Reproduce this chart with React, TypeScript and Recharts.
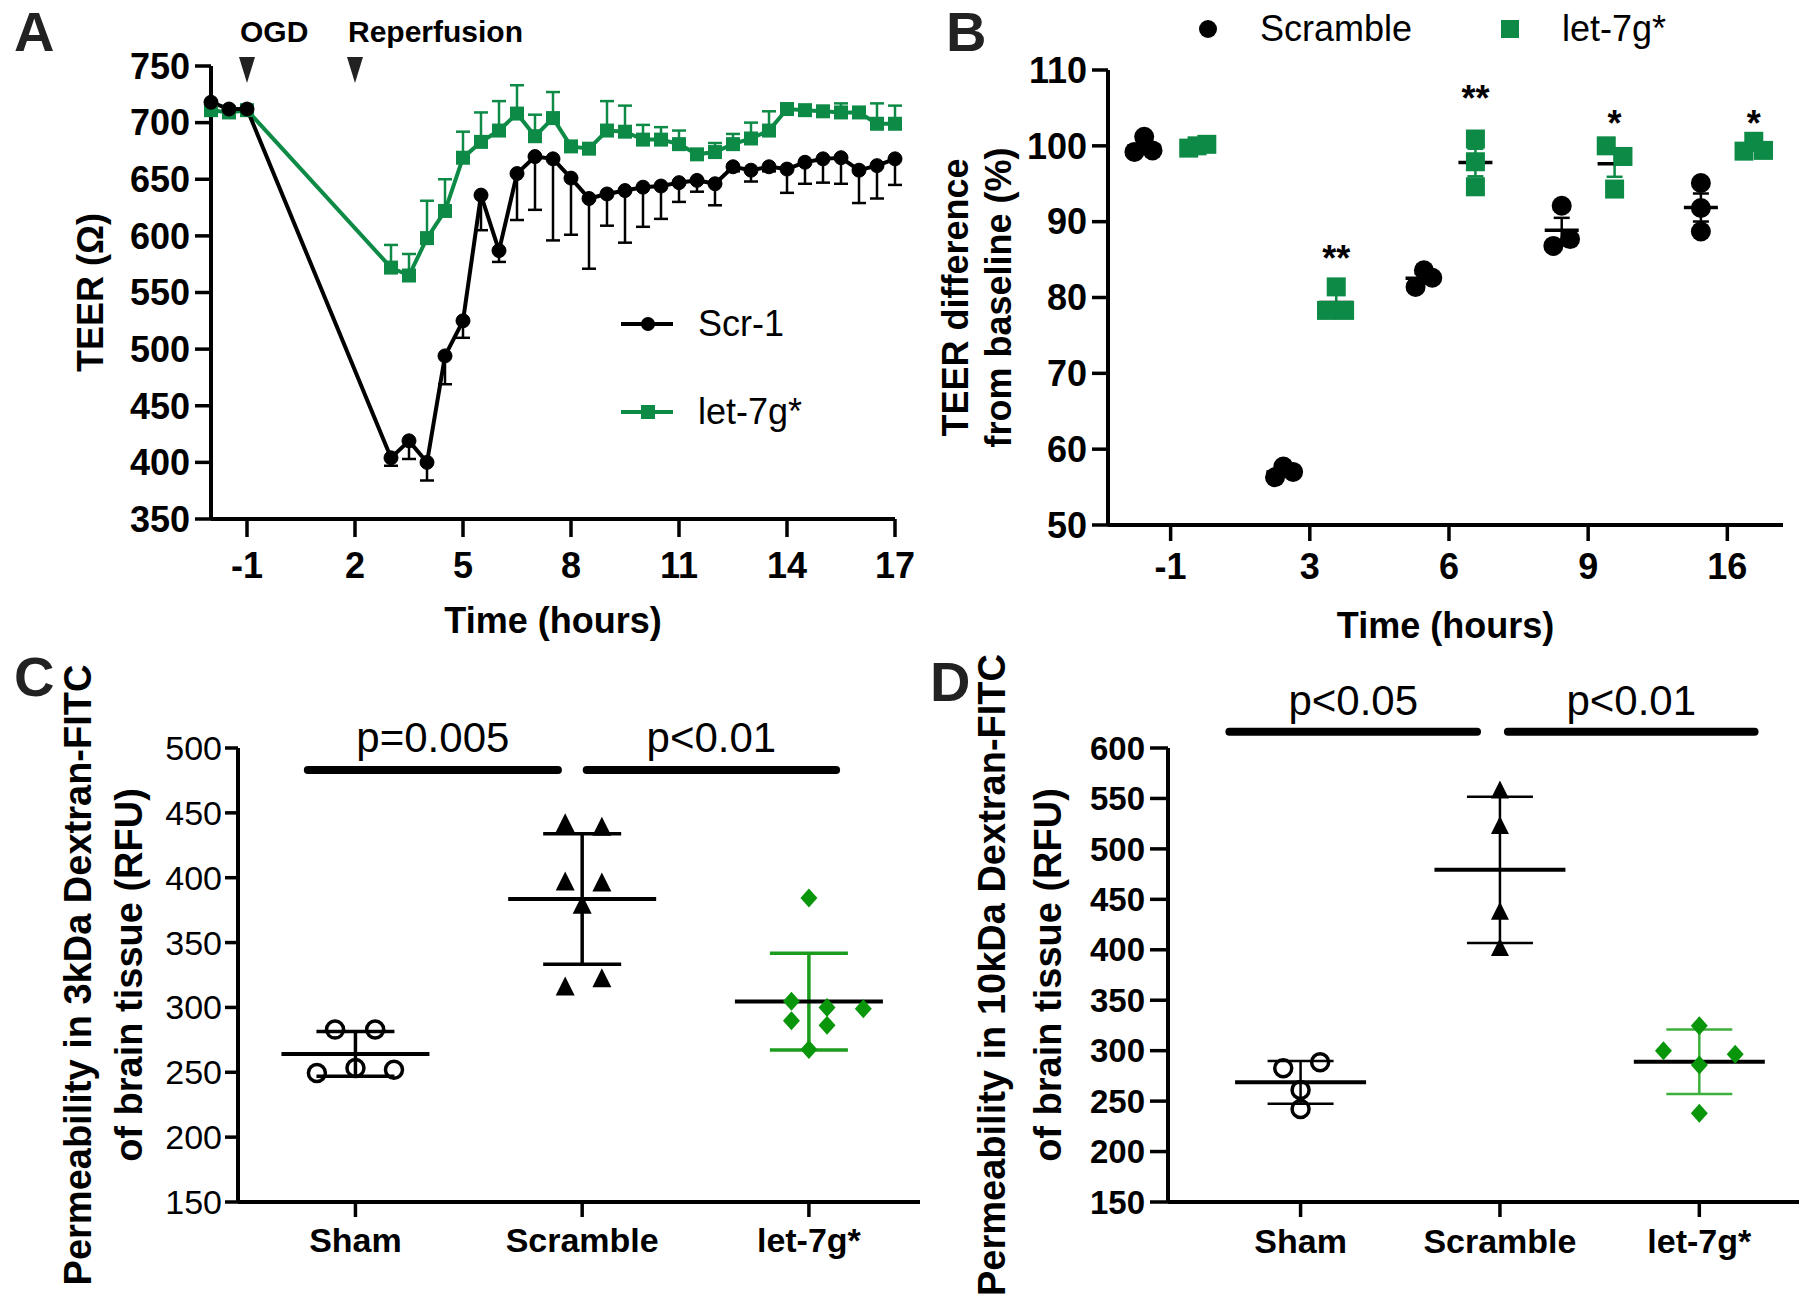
import React from 'react';
import {
  ComposedChart,
  ScatterChart,
  Line,
  Scatter,
  XAxis,
  YAxis,
  ErrorBar,
  ReferenceLine,
  ReferenceDot,
  Legend,
} from 'recharts';

const FONT = "'Liberation Sans', Arial, Helvetica, sans-serif";
const GREEN_A = '#0d8b46';
const GREEN_C = '#0a960a';
const GREEN_C_ERR = '#1c9c1c';
const GREEN_D_ERR = '#3cb03c';

// ---------- Panel A: TEER time course ----------
const timeA = [-2, -1.5, -1, 3, 3.5, 4, 4.5, 5, 5.5, 6, 6.5, 7, 7.5, 8, 8.5, 9, 9.5, 10, 10.5, 11, 11.5, 12, 12.5, 13, 13.5, 14, 14.5, 15, 15.5, 16, 16.5, 17];
const scrA = [718, 712, 712, 404, 419, 400, 494, 525, 636, 587, 655, 670, 668, 651, 633, 637, 640, 643, 644, 647, 649, 646, 661, 658, 661, 659, 665, 668, 669, 658, 662, 668];
const scrErrA = [4, 0, 0, 7, 16, 16, 25, 15, 31, 10, 41, 47, 72, 50, 62, 28, 46, 35, 29, 17, 10, 19, 4, 10, 4, 21, 19, 21, 23, 29, 29, 23];
const letA = [711, 709, 711, 572, 565, 598, 622, 669, 683, 693, 708, 688, 704, 679, 677, 693, 692, 685, 685, 681, 672, 674, 681, 686, 693, 712, 711, 710, 709, 709, 699, 699];
const letErrA = [0, 0, 0, 20, 19, 33, 28, 23, 26, 26, 25, 19, 23, 4, 4, 26, 23, 13, 11, 12, 4, 8, 9, 14, 17, 3, 3, 4, 8, 4, 18, 16];
const ticksAX = [-1, 2, 5, 8, 11, 14, 17];
const ticksAY = [350, 400, 450, 500, 550, 600, 650, 700, 750];
const eventsA = [
  { t: -1, label: 'OGD' },
  { t: 2, label: 'Reperfusion' },
];

// ---------- Panel B: TEER difference from baseline ----------
const groupsB = ['-1', '3', '6', '9', '16'];
const scrambleB = [
  [101.2, 99.2, 99.4],
  [56.3, 57.0, 57.7],
  [81.4, 82.6, 83.6],
  [92.1, 86.8, 87.7],
  [95.1, 91.8, 88.7],
];
const let7gB = [
  [99.7, 100.2, 100.0],
  [81.4, 78.3, 78.3],
  [100.9, 97.9, 94.6],
  [100.0, 98.6, 94.3],
  [100.6, 99.3, 99.4],
];
const sigB = ['', '**', '**', '*', '*'];
const sigYB = [0, 85.1, 106.2, 102.9, 102.9];
const ticksBY = [50, 60, 70, 80, 90, 100, 110];

// ---------- Panel C: 3kDa dextran ----------
const groupsCD = ['Sham', 'Scramble', 'let-7g*'];
const sham3k = [282.9, 283.0, 249.5, 253.3, 252.0];
const scr3k = [440.9, 438.3, 396.0, 395.2, 378.0, 315.0, 321.4];
const let3k = [384.4, 304.7, 300.0, 299.0, 289.8, 286.2, 267.5];
const ticksCY = [150, 200, 250, 300, 350, 400, 450, 500];

// ---------- Panel D: 10kDa dextran ----------
const sham10k = [282.5, 288.5, 261.0, 242.3];
const scr10k = [557.0, 522.0, 437.0, 401.0];
const let10k = [324.8, 300.0, 296.4, 285.8, 238.0];
const ticksDY = [150, 200, 250, 300, 350, 400, 450, 500, 550, 600];

// horizontal scatter offsets (layout only)
const jitScrB = [[-0.19, -0.26, -0.13], [-0.25, -0.12, -0.19], [-0.24, -0.12, -0.18], [-0.19, -0.25, -0.13], [-0.19, -0.19, -0.19]];
const jitLetB = [[0.13, 0.26, 0.19], [0.19, 0.12, 0.25], [0.19, 0.19, 0.19], [0.13, 0.25, 0.19], [0.19, 0.12, 0.26]];
const jitSham3k = [-0.09, 0.087, -0.17, 0, 0.17];
const jitScr3k = [-0.075, 0.087, -0.075, 0.087, 0, -0.075, 0.087];
const jitLet3k = [0, -0.077, 0.08, 0.24, -0.077, 0.08, 0];
const jitSham10k = [-0.087, 0.098, 0, 0];
const jitScr10k = [0, 0, 0, 0];
const jitLet10k = [0, -0.18, 0.18, 0, 0];

const mean = (a: number[]) => a.reduce((s, v) => s + v, 0) / a.length;
const sd = (a: number[]) => {
  const m = mean(a);
  return Math.sqrt(a.reduce((s, v) => s + (v - m) * (v - m), 0) / (a.length - 1));
};
const sem = (a: number[]) => sd(a) / Math.sqrt(a.length);

const rowsA = timeA.map((t, i) => ({
  t,
  scr: scrA[i],
  scrErr: [scrErrA[i], 0],
  let: letA[i],
  letErr: [0, letErrA[i]],
}));

const pointsB = (vals: number[][], jit: number[][]) =>
  vals.flatMap((g, i) => g.map((v, j) => ({ x: i + jit[i][j], y: v })));
const statsB = (vals: number[][], side: number) =>
  vals.map((g, i) => ({ x: i + side, y: mean(g), err: sem(g) }));
const pointsGroup = (vals: number[], jit: number[], i: number) =>
  vals.map((v, j) => ({ x: i + jit[j], y: v }));
const statGroup = (vals: number[], i: number) => [{ x: i, y: mean(vals), err: sd(vals) }];

const tickFont = (size: number, weight: number) => ({
  fill: '#000',
  fontSize: size,
  fontWeight: weight,
  fontFamily: FONT,
});
const axisStroke = { stroke: '#000', strokeWidth: 4 };

// rotated multi-line y-axis title
const yTitle = (lines: string[], xs: number[], size: number) => (props: any) => {
  const vb = props.viewBox || { x: 0, y: 0, width: 0, height: 0 };
  const cy = vb.y + vb.height / 2;
  return (
    <g>
      {lines.map((l, i) => (
        <text
          key={l}
          x={vb.x + xs[i]}
          y={cy}
          transform={`rotate(-90 ${vb.x + xs[i]} ${cy})`}
          textAnchor="middle"
          dominantBaseline="central"
          fontSize={size}
          fontWeight={700}
          fontFamily={FONT}
          fill="#000"
        >
          {l}
        </text>
      ))}
    </g>
  );
};

// marker shapes
const squareDot = (size: number, color: string) => (p: any) => (
  <rect key={`sq-${p.index}`} x={p.cx - size / 2} y={p.cy - size / 2} width={size} height={size} fill={color} />
);
const circleShape = (r: number, color: string) => (p: any) => <circle cx={p.cx} cy={p.cy} r={r} fill={color} />;
const squareShape = (size: number, color: string) => (p: any) => (
  <rect x={p.cx - size / 2} y={p.cy - size / 2} width={size} height={size} fill={color} />
);
const openCircle = (r: number) => (p: any) => (
  <circle cx={p.cx} cy={p.cy} r={r} fill="none" stroke="#000" strokeWidth={3.5} />
);
const triangle = (s: number) => (p: any) => (
  <polygon points={`${p.cx},${p.cy - s * 0.6} ${p.cx + s / 2},${p.cy + s * 0.4} ${p.cx - s / 2},${p.cy + s * 0.4}`} fill="#000" />
);
const diamond = (w: number, h: number, color: string) => (p: any) => (
  <polygon points={`${p.cx},${p.cy - h / 2} ${p.cx + w / 2},${p.cy} ${p.cx},${p.cy + h / 2} ${p.cx - w / 2},${p.cy}`} fill={color} />
);
const meanBar = (w: number, sw: number) => (p: any) => (
  <line x1={p.cx - w / 2} x2={p.cx + w / 2} y1={p.cy} y2={p.cy} stroke="#000" strokeWidth={sw} />
);
const eventMark = (label: string) => (p: any) => (
  <g>
    <polygon points={`${p.cx - 8},${p.cy - 9} ${p.cx + 8},${p.cy - 9} ${p.cx},${p.cy + 17}`} fill="#222" />
    <text x={p.cx - 7} y={p.cy - 24} fontSize={30} fontWeight={700} fontFamily={FONT} fill="#000">
      {label}
    </text>
  </g>
);
const starMark = (text: string) => (p: any) => (
  <text x={p.cx} y={p.cy} textAnchor="middle" dominantBaseline="central" fontSize={36} fontWeight={700} fontFamily={FONT} fill="#000">
    {text}
  </text>
);

// legends
const orderA = ['Scr-1', 'let-7g*'];
function LegendA({ payload }: any) {
  const items = [...(payload || [])]
    .filter((it: any) => orderA.includes(it.value))
    .sort((a: any, b: any) => orderA.indexOf(a.value) - orderA.indexOf(b.value));
  return (
    <div style={{ fontFamily: FONT }}>
      {items.map((it: any) => (
        <div key={it.value} style={{ display: 'flex', alignItems: 'center', height: 88, whiteSpace: 'nowrap' }}>
          <svg width={52} height={20}>
            <line x1={0} x2={52} y1={10} y2={10} stroke={it.color} strokeWidth={4} />
            {it.value === 'Scr-1' ? (
              <circle cx={27} cy={10} r={7} fill={it.color} />
            ) : (
              <rect x={20} y={3} width={14} height={14} fill={it.color} />
            )}
          </svg>
          <span style={{ marginLeft: 25, fontSize: 36, color: '#000', lineHeight: 1 }}>{it.value}</span>
        </div>
      ))}
    </div>
  );
}

const orderB = ['Scramble', 'let-7g*'];
function LegendB({ payload }: any) {
  const items = (payload || []).filter((it: any) => orderB.includes(it.value));
  return (
    <div style={{ display: 'flex', alignItems: 'center', fontFamily: FONT, whiteSpace: 'nowrap' }}>
      {items.map((it: any, i: number) => (
        <div key={it.value} style={{ display: 'flex', alignItems: 'center', marginLeft: i ? 88 : 0 }}>
          <svg width={20} height={20}>
            {it.value === 'Scramble' ? (
              <circle cx={10} cy={10} r={9} fill={it.color} />
            ) : (
              <rect x={1} y={1} width={18} height={18} fill={it.color} />
            )}
          </svg>
          <span style={{ marginLeft: 42, fontSize: 36, color: '#000', lineHeight: 1 }}>{it.value}</span>
        </div>
      ))}
    </div>
  );
}

const sigC = [
  { from: -0.21, to: 0.893, y: 483, text: 'p=0.005' },
  { from: 1.02, to: 2.12, y: 483, text: 'p<0.01' },
];
const sigD = [
  { from: -0.357, to: 0.885, y: 616, text: 'p<0.05' },
  { from: 1.04, to: 2.277, y: 616, text: 'p<0.01' },
];

const sigLines = (list: typeof sigC, offset: number) =>
  list.map((s) => (
    <ReferenceLine
      key={s.text + s.from}
      segment={[{ x: s.from, y: s.y }, { x: s.to, y: s.y }]}
      stroke="#000"
      strokeWidth={8}
      strokeLinecap="round"
      ifOverflow="visible"
      label={{ value: s.text, position: 'top', offset, fontSize: 42, fontFamily: FONT, fill: '#000' }}
    />
  ));

const letterStyle = (left: number, top: number): React.CSSProperties => ({
  position: 'absolute',
  left,
  top,
  fontSize: 56,
  fontWeight: 700,
  fontFamily: FONT,
  lineHeight: 1,
  color: '#222',
});

function PanelA() {
  return (
    <ComposedChart width={920} height={660} data={rowsA} margin={{ top: 66, right: 25, bottom: 0, left: 0 }}>
      <XAxis
        type="number"
        dataKey="t"
        domain={[-2, 17]}
        ticks={ticksAX}
        interval={0}
        height={141}
        axisLine={axisStroke}
        tickLine={{ stroke: '#000', strokeWidth: 3.5 }}
        tickSize={18}
        tickMargin={15}
        tick={tickFont(36, 700)}
        label={{ value: 'Time (hours)', position: 'insideBottom', offset: 27, fontSize: 36, fontWeight: 700, fontFamily: FONT, fill: '#000' }}
      />
      <YAxis
        type="number"
        domain={[350, 750]}
        ticks={ticksAY}
        interval={0}
        width={211}
        axisLine={axisStroke}
        tickLine={{ stroke: '#000', strokeWidth: 3.5 }}
        tickSize={16}
        tickMargin={5}
        tick={tickFont(36, 700)}
        label={yTitle(['TEER (Ω)'], [90], 36)}
      />
      <Line
        dataKey="let"
        name="let-7g*"
        stroke={GREEN_A}
        strokeWidth={4}
        dot={squareDot(14, GREEN_A)}
        activeDot={false}
        isAnimationActive={false}
      >
        <ErrorBar dataKey="letErr" direction="y" width={7} stroke={GREEN_A} strokeWidth={2.5} />
      </Line>
      <Line
        dataKey="scr"
        name="Scr-1"
        stroke="#000"
        strokeWidth={4}
        dot={{ r: 7, fill: '#000', stroke: '#000', strokeWidth: 1 }}
        activeDot={false}
        isAnimationActive={false}
      >
        <ErrorBar dataKey="scrErr" direction="y" width={7} stroke="#000" strokeWidth={2.5} />
      </Line>
      {eventsA.map((e) => (
        <ReferenceDot key={e.label} x={e.t} y={750} ifOverflow="visible" shape={eventMark(e.label)} />
      ))}
      <Legend
        layout="vertical"
        align="center"
        verticalAlign="middle"
        content={<LegendA />}
        wrapperStyle={{ left: 621, top: 280, width: 260 }}
      />
    </ComposedChart>
  );
}

function PanelB() {
  return (
    <ScatterChart width={884} height={660} margin={{ top: 70, right: 21, bottom: 0, left: 0 }}>
      <XAxis
        type="number"
        dataKey="x"
        domain={[-0.45, 4.4]}
        ticks={[0, 1, 2, 3, 4]}
        interval={0}
        tickFormatter={(i: number) => groupsB[i]}
        height={135}
        axisLine={axisStroke}
        tickLine={{ stroke: '#000', strokeWidth: 3.5 }}
        tickSize={16}
        tickMargin={12}
        tick={tickFont(36, 700)}
        label={{ value: 'Time (hours)', position: 'insideBottom', offset: 22, fontSize: 36, fontWeight: 700, fontFamily: FONT, fill: '#000' }}
      />
      <YAxis
        type="number"
        dataKey="y"
        domain={[50, 110]}
        ticks={ticksBY}
        interval={0}
        width={188}
        axisLine={axisStroke}
        tickLine={{ stroke: '#000', strokeWidth: 3.5 }}
        tickSize={16}
        tickMargin={5}
        tick={tickFont(36, 700)}
        label={yTitle(['TEER difference', 'from baseline (%)'], [35, 78], 36)}
      />
      <Scatter name="scramble-mean" data={statsB(scrambleB, -0.19)} legendType="none" shape={meanBar(34, 3.5)} isAnimationActive={false}>
        <ErrorBar dataKey="err" direction="y" width={8} stroke="#000" strokeWidth={2.5} />
      </Scatter>
      <Scatter name="let-mean" data={statsB(let7gB, 0.19)} legendType="none" shape={meanBar(34, 3.5)} isAnimationActive={false}>
        <ErrorBar dataKey="err" direction="y" width={8} stroke={GREEN_A} strokeWidth={2.5} />
      </Scatter>
      <Scatter name="Scramble" data={pointsB(scrambleB, jitScrB)} fill="#000" shape={circleShape(10, '#000')} isAnimationActive={false} />
      <Scatter name="let-7g*" data={pointsB(let7gB, jitLetB)} fill={GREEN_A} shape={squareShape(19, GREEN_A)} isAnimationActive={false} />
      {sigB.map((s, i) =>
        s ? (
          <ReferenceDot key={`sig-${i}`} x={i + 0.19} y={sigYB[i]} ifOverflow="visible" shape={starMark(s)} />
        ) : null
      )}
      <Legend
        layout="vertical"
        align="center"
        verticalAlign="middle"
        content={<LegendB />}
        wrapperStyle={{ left: 278, top: 11, width: 560 }}
      />
    </ScatterChart>
  );
}

function PanelC() {
  return (
    <ScatterChart width={920} height={687} margin={{ top: 128, right: 0, bottom: 0, left: 0 }}>
      <XAxis
        type="number"
        dataKey="x"
        domain={[-0.518, 2.49]}
        ticks={[0, 1, 2]}
        interval={0}
        tickFormatter={(i: number) => groupsCD[i]}
        height={105}
        axisLine={axisStroke}
        tickLine={{ stroke: '#000', strokeWidth: 3.5 }}
        tickSize={15}
        tickMargin={11}
        tick={tickFont(34, 700)}
      />
      <YAxis
        type="number"
        dataKey="y"
        domain={[150, 500]}
        ticks={ticksCY}
        interval={0}
        width={238}
        axisLine={axisStroke}
        tickLine={{ stroke: '#000', strokeWidth: 3.5 }}
        tickSize={13}
        tickMargin={3}
        tick={tickFont(34, 400)}
        label={yTitle(['Permeability in 3kDa Dextran-FITC', 'of brain tissue (RFU)'], [78, 129], 38)}
      />
      <Scatter data={statGroup(sham3k, 0)} shape={meanBar(148, 4)} isAnimationActive={false}>
        <ErrorBar dataKey="err" direction="y" width={39} stroke="#000" strokeWidth={3.5} />
      </Scatter>
      <Scatter data={statGroup(scr3k, 1)} shape={meanBar(148, 4)} isAnimationActive={false}>
        <ErrorBar dataKey="err" direction="y" width={39} stroke="#000" strokeWidth={3.5} />
      </Scatter>
      <Scatter data={statGroup(let3k, 2)} shape={meanBar(148, 4)} isAnimationActive={false}>
        <ErrorBar dataKey="err" direction="y" width={39} stroke={GREEN_C_ERR} strokeWidth={3.5} />
      </Scatter>
      <Scatter data={pointsGroup(sham3k, jitSham3k, 0)} shape={openCircle(8.5)} isAnimationActive={false} />
      <Scatter data={pointsGroup(scr3k, jitScr3k, 1)} shape={triangle(19)} isAnimationActive={false} />
      <Scatter data={pointsGroup(let3k, jitLet3k, 2)} shape={diamond(17, 19, GREEN_C)} isAnimationActive={false} />
      {sigLines(sigC, 18)}
    </ScatterChart>
  );
}

function PanelD() {
  return (
    <ScatterChart width={884} height={687} margin={{ top: 128, right: 5, bottom: 0, left: 0 }}>
      <XAxis
        type="number"
        dataKey="x"
        domain={[-0.665, 2.5]}
        ticks={[0, 1, 2]}
        interval={0}
        tickFormatter={(i: number) => groupsCD[i]}
        height={105}
        axisLine={axisStroke}
        tickLine={{ stroke: '#000', strokeWidth: 3.5 }}
        tickSize={15}
        tickMargin={12}
        tick={tickFont(34, 700)}
      />
      <YAxis
        type="number"
        dataKey="y"
        domain={[150, 600]}
        ticks={ticksDY}
        interval={0}
        width={248}
        axisLine={axisStroke}
        tickLine={{ stroke: '#000', strokeWidth: 3.5 }}
        tickSize={18}
        tickMargin={5}
        tick={tickFont(33, 700)}
        label={yTitle(['Permeability in 10kDa Dextran-FITC', 'of brain tissue (RFU)'], [72, 128], 38)}
      />
      <Scatter data={statGroup(sham10k, 0)} shape={meanBar(131, 4)} isAnimationActive={false}>
        <ErrorBar dataKey="err" direction="y" width={33} stroke="#000" strokeWidth={2.5} />
      </Scatter>
      <Scatter data={statGroup(scr10k, 1)} shape={meanBar(131, 4)} isAnimationActive={false}>
        <ErrorBar dataKey="err" direction="y" width={33} stroke="#000" strokeWidth={2.5} />
      </Scatter>
      <Scatter data={statGroup(let10k, 2)} shape={meanBar(131, 4)} isAnimationActive={false}>
        <ErrorBar dataKey="err" direction="y" width={33} stroke={GREEN_D_ERR} strokeWidth={2.5} />
      </Scatter>
      <Scatter data={pointsGroup(sham10k, jitSham10k, 0)} shape={openCircle(8.5)} isAnimationActive={false} />
      <Scatter data={pointsGroup(scr10k, jitScr10k, 1)} shape={triangle(18)} isAnimationActive={false} />
      <Scatter data={pointsGroup(let10k, jitLet10k, 2)} shape={diamond(17, 19, GREEN_C)} isAnimationActive={false} />
      {sigLines(sigD, 17)}
    </ScatterChart>
  );
}

export default function App() {
  return (
    <div style={{ position: 'absolute', left: 0, top: 0, width: 1804, height: 1307, background: '#fff', fontFamily: FONT }}>
      <div style={{ position: 'absolute', left: 0, top: 0 }}>
        <PanelA />
      </div>
      <div style={{ position: 'absolute', left: 920, top: 0 }}>
        <PanelB />
      </div>
      <div style={{ position: 'absolute', left: 0, top: 620 }}>
        <PanelC />
      </div>
      <div style={{ position: 'absolute', left: 920, top: 620 }}>
        <PanelD />
      </div>
      <div style={letterStyle(14, 4)}>A</div>
      <div style={letterStyle(946, 4)}>B</div>
      <div style={letterStyle(14, 649)}>C</div>
      <div style={letterStyle(930, 654)}>D</div>
    </div>
  );
}
